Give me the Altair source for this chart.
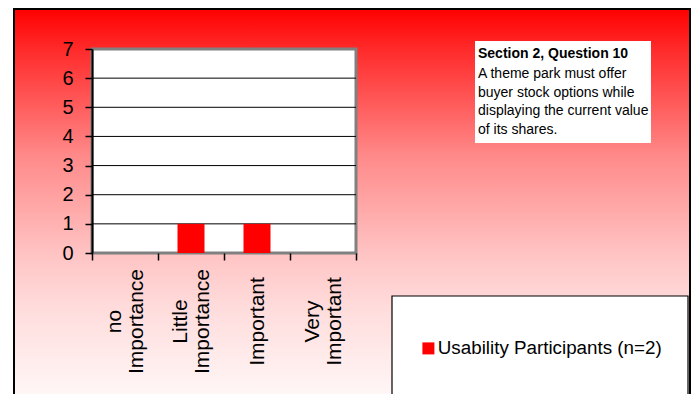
import altair as alt
import pandas as pd

# ---- data ----
categories = ["no Importance", "Little Importance", "Important", "Very Important"]
counts = [0, 1, 1, 0]
series_name = "Usability Participants (n=2)"
y_ticks = [0, 1, 2, 3, 4, 5, 6, 7]
grid_values = [1, 2, 3, 4, 5, 6]
note_title = "Section 2, Question 10"
note_lines = ["A theme park must offer", "buyer stock options while",
              "displaying the current value", "of its shares."]

FONT = "Liberation Sans"
W, H = 264, 204
PAD = {"left": 84, "top": 41, "right": 336, "bottom": 141}

bars_df = pd.DataFrame({"category": categories, "count": counts,
                        "series": [series_name] * len(categories)})
grid_df = pd.DataFrame({"v": grid_values})
one = pd.DataFrame({"k": [0]})

x_scale = alt.Scale(domain=categories, paddingInner=0, paddingOuter=0)
y_scale = alt.Scale(domain=[0, 7], nice=False)

y_axis = alt.Axis(values=y_ticks, grid=False, domainColor="black", domainWidth=2,
                  tickColor="black", tickWidth=1.5, tickSize=7,
                  labelFont=FONT, labelFontSize=20, labelColor="black",
                  labelPadding=12, zindex=1)

gradient = alt.LinearGradient(
    gradient="linear", x1=0, y1=0, x2=0, y2=1,
    stops=[
        alt.GradientStop(color="#ff0000", offset=0),
        alt.GradientStop(color="#ff2b2b", offset=0.1),
        alt.GradientStop(color="#ff5a5a", offset=0.23),
        alt.GradientStop(color="#ff8a8a", offset=0.36),
        alt.GradientStop(color="#ffc4c4", offset=0.6),
        alt.GradientStop(color="#ffdcdc", offset=0.73),
        alt.GradientStop(color="#fffafa", offset=0.97),
        alt.GradientStop(color="#ffffff", offset=1),
    ])

frame = alt.Chart(one).mark_rect(fill=gradient, stroke="black", strokeWidth=2).encode(
    x=alt.value(-78), x2=alt.value(598), y=alt.value(-40), y2=alt.value(370))

plot_bg = alt.Chart(one).mark_rect(fill="white", stroke="#808080", strokeWidth=3).encode(
    x=alt.value(0), x2=alt.value(W), y=alt.value(0), y2=alt.value(H))

grid = alt.Chart(grid_df).mark_rule(color="black", strokeWidth=1).encode(
    y=alt.Y("v:Q", scale=y_scale, axis=y_axis, title=None),
    x=alt.value(0), x2=alt.value(W))

bars = alt.Chart(bars_df).mark_bar(width=27).encode(
    x=alt.X("category:N", scale=x_scale, sort=categories, title=None,
            axis=alt.Axis(labelAngle=270, labelAlign="center", labelBaseline="middle",
                          labelExpr="split(datum.label, ' ')", labelLineHeight=22,
                          labelOffset={"condition": {"test": "indexof(datum.label, ' ') >= 0",
                                                     "value": -11},
                                       "value": 0},
                          labelFont=FONT, labelFontSize=21, labelColor="black",
                          labelPadding=61, tickBand="extent", tickSize=7,
                          tickColor="black", tickWidth=1.5, domain=False,
                          labelOverlap=False, zindex=1)),
    y=alt.Y("count:Q", scale=y_scale, title=None, axis=y_axis),
    color=alt.Color("series:N", scale=alt.Scale(range=["#ff0000"]),
                    legend=alt.Legend(title=None, orient="none", legendX=327, legendY=290,
                                      symbolType="square", symbolSize=144,
                                      symbolStrokeWidth=0, labelFont=FONT,
                                      labelFontSize=18.8, labelColor="black",
                                      labelOffset=0, padding=0, labelLimit=400)))

note_box = alt.Chart(one).mark_rect(fill="white").encode(
    x=alt.value(383), x2=alt.value(559), y=alt.value(-8), y2=alt.value(94))

note_head = alt.Chart(one).mark_text(
    align="left", baseline="alphabetic", font=FONT, fontSize=14, fontWeight="bold",
    color="black").encode(x=alt.value(386), y=alt.value(9), text=alt.value(note_title))

note_body = alt.Chart(one).mark_text(
    align="left", baseline="alphabetic", font=FONT, fontSize=14, lineHeight=18.5,
    color="black").encode(x=alt.value(386), y=alt.value(29), text=alt.value(note_lines))

legend_box = alt.Chart(one).mark_rect(fill="white", stroke="black", strokeWidth=1.2).encode(
    x=alt.value(300), x2=alt.value(596), y=alt.value(247), y2=alt.value(348))

chart = alt.layer(frame, plot_bg, grid, bars, note_box, note_head, note_body,
                  legend_box).properties(
    width=W, height=H, padding=PAD,
    autosize=alt.AutoSizeParams(type="none")
).configure_view(stroke=None).configure(background="white")

chart.save("out.html", embed_options={"renderer": "svg", "actions": False})
